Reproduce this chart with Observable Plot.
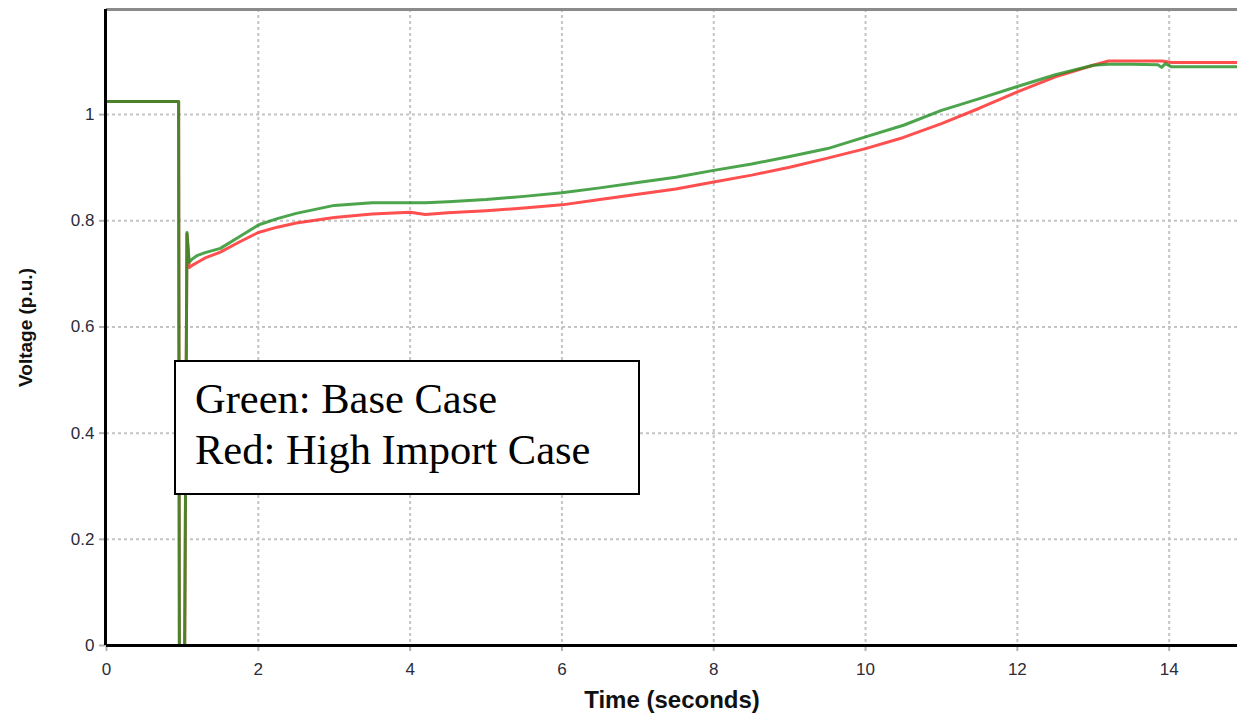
<!DOCTYPE html>
<html>
<head>
<meta charset="utf-8">
<script src="https://cdn.jsdelivr.net/npm/d3@7"></script>
<script src="https://cdn.jsdelivr.net/npm/@observablehq/plot@0.6"></script>
<style>
  body { margin: 0; background: #fff; }
  #wrap { position: relative; width: 1237px; height: 714px; overflow: hidden; }
  #wrap g[aria-label*="tick label"] text { font-size: 17px; }
  #legend {
    position: absolute; left: 174px; top: 360px; width: 462px; height: 131px;
    border: 2px solid #000; background: #fff;
    font-family: "Liberation Serif", "Times New Roman", serif; font-size: 42.5px;
    line-height: 51px; padding: 0; color: #000;
  }
  #legend div { position: absolute; left: 19px; white-space: nowrap; }
</style>
</head>
<body>
<div id="wrap"></div>
<script>
const time       = [0, 0.95, 0.96, 1.03, 1.06, 1.09, 1.13, 1.2, 1.3, 1.5, 1.75, 2.0, 2.25, 2.5, 3.0, 3.5, 4.0, 4.2, 4.5, 5.0, 5.5, 6.0, 6.5, 7.0, 7.5, 8.0, 8.5, 9.0, 9.5, 10.0, 10.5, 11.0, 11.5, 12.0, 12.5, 13.0, 13.2, 13.5, 13.85, 13.9, 13.95, 14.03, 14.5, 14.9];
const baseCase   = [1.0245, 1.0245, 0, 0, 0.778, 0.722, 0.728, 0.735, 0.740, 0.748, 0.770, 0.792, 0.804, 0.814, 0.829, 0.834, 0.834, 0.834, 0.836, 0.840, 0.846, 0.853, 0.862, 0.872, 0.882, 0.895, 0.907, 0.921, 0.936, 0.958, 0.980, 1.008, 1.030, 1.053, 1.075, 1.093, 1.095, 1.095, 1.094, 1.089, 1.096, 1.090, 1.090, 1.090];
const highImport = [1.0245, 1.0245, 0, 0, 0.775, 0.712, 0.716, 0.722, 0.730, 0.741, 0.760, 0.778, 0.788, 0.796, 0.806, 0.813, 0.816, 0.812, 0.815, 0.819, 0.824, 0.830, 0.840, 0.850, 0.860, 0.873, 0.886, 0.901, 0.918, 0.936, 0.957, 0.983, 1.012, 1.043, 1.071, 1.093, 1.101, 1.101, 1.101, 1.101, 1.100, 1.098, 1.098, 1.098];
const xTicks = [0, 2, 4, 6, 8, 10, 12, 14];
const yTicks = [0, 0.2, 0.4, 0.6, 0.8, 1];
const xDomain = [0, 14.9];
const yDomain = [0, 1.198];
const xLabel = "Time (seconds)";
const yLabel = "Voltage (p.u.)";
const legendLines = ["Green: Base Case", "Red: High Import Case"];

const baseData = time.map((t, i) => ({t, v: baseCase[i]}));
const highData = time.map((t, i) => ({t, v: highImport[i]}));

const chart = Plot.plot({
  width: 1237,
  height: 714,
  marginLeft: 106,
  marginRight: 0,
  marginTop: 9,
  marginBottom: 69,
  style: {fontFamily: "'Liberation Sans', Arial, sans-serif", background: "#fff", overflow: "visible"},
  x: {domain: xDomain},
  y: {domain: yDomain},
  marks: [
    Plot.gridX(xTicks.filter(d => d > 0), {stroke: "#c4c4c4", strokeOpacity: 1, strokeWidth: 2, strokeDasharray: "3,3"}),
    Plot.gridY(yTicks.filter(d => d > 0), {stroke: "#c4c4c4", strokeOpacity: 1, strokeWidth: 2, strokeDasharray: "3,3"}),
    Plot.axisX(xTicks, {tickSize: 6, tickPadding: 11, stroke: "#b0b0b0", fill: "#2b2b3a", strokeWidth: 2, label: null, tickFormat: d => String(d)}),
    Plot.axisY(yTicks, {tickSize: 7, tickPadding: 5, stroke: "#b0b0b0", fill: "#2b2b3a", strokeWidth: 2, label: null, tickFormat: d => String(d)}),
    Plot.line(highData, {x: "t", y: "v", stroke: "#ff3030", strokeOpacity: 0.85, strokeWidth: 3, curve: "linear"}),
    Plot.line(baseData, {x: "t", y: "v", stroke: "#1f8f1f", strokeOpacity: 0.8, strokeWidth: 3, curve: "linear"}),
    Plot.ruleY([yDomain[1]], {stroke: "#8a8a8a", strokeWidth: 3}),
    Plot.ruleX([0], {stroke: "#000", strokeWidth: 3, dx: -1}),
    Plot.ruleY([0], {stroke: "#000", strokeWidth: 3}),
    Plot.text([yLabel], {frameAnchor: "left", textAnchor: "middle", dx: -81, rotate: -90, text: d => d, fontWeight: "bold", fontSize: 19, fill: "#111"}),
    Plot.text([xLabel], {frameAnchor: "bottom", textAnchor: "middle", dy: 62, text: d => d, fontWeight: "bold", fontSize: 24, fill: "#111"})
  ]
});

d3.select(chart).selectAll("g[aria-label*='axis'] text").style("font-size", "17px");

const wrap = document.getElementById("wrap");
wrap.appendChild(chart);
const legend = document.createElement("div");
legend.id = "legend";
legendLines.forEach((txt, i) => {
  const d = document.createElement("div");
  d.textContent = txt;
  d.style.top = (11 + i * 51) + "px";
  legend.appendChild(d);
});
wrap.appendChild(legend);
</script>
</body>
</html>
